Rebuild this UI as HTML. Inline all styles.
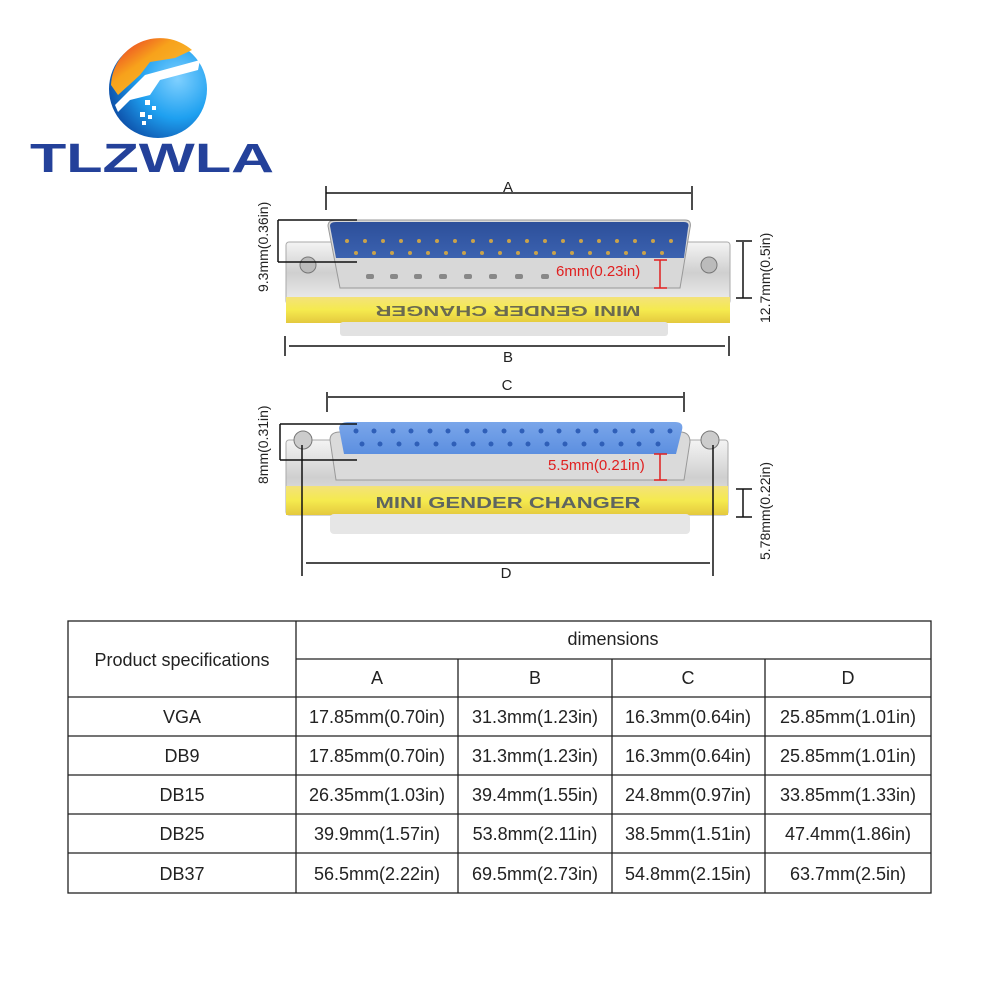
<!DOCTYPE html>
<html><head><meta charset="utf-8"><style>
html,body{margin:0;padding:0;background:#fff;}
svg{display:block;font-family:"Liberation Sans",sans-serif;}
</style></head><body>
<svg width="1000" height="1000" viewBox="0 0 1000 1000" xmlns="http://www.w3.org/2000/svg">
<defs>
<linearGradient id="orb" x1="0" y1="0" x2="1" y2="1">
<stop offset="0" stop-color="#e8262a"/><stop offset="0.4" stop-color="#f7a21b"/><stop offset="1" stop-color="#f9c43a"/></linearGradient>
<radialGradient id="blue" cx="0.7" cy="0.4" r="0.8"><stop offset="0" stop-color="#7fd0ff"/><stop offset="0.5" stop-color="#1ea0f0"/><stop offset="1" stop-color="#0a3f9a"/></radialGradient>
<linearGradient id="silver" x1="0" y1="0" x2="0" y2="1"><stop offset="0" stop-color="#f4f4f4"/><stop offset="0.5" stop-color="#cfcfcf"/><stop offset="1" stop-color="#eee"/></linearGradient>
<linearGradient id="yellow" x1="0" y1="0" x2="0" y2="1"><stop offset="0" stop-color="#f3e27a"/><stop offset="0.5" stop-color="#f5ea4e"/><stop offset="1" stop-color="#e4c93e"/></linearGradient>
<linearGradient id="dblue" x1="0" y1="0" x2="0" y2="1"><stop offset="0" stop-color="#2d4f9a"/><stop offset="1" stop-color="#3b62b0"/></linearGradient>
<linearGradient id="lblue" x1="0" y1="0" x2="0" y2="1"><stop offset="0" stop-color="#7aa6ea"/><stop offset="1" stop-color="#5c8fe0"/></linearGradient>
</defs>
<!-- logo -->
<circle cx="158" cy="89" r="49" fill="url(#blue)"/>
<path d="M111 85 A49 49 0 0 1 192 50 L175 58 L150 62 L140 75 L118 95 Z" fill="url(#orb)"/>
<path d="M115 105 L145 75 L200 60 L198 70 L160 80 L150 95 L130 100 L118 112 Z" fill="#fff"/>
<g fill="#fff"><rect x="145" y="100" width="5" height="5"/><rect x="152" y="106" width="4" height="4"/><rect x="140" y="112" width="5" height="5"/><rect x="148" y="115" width="4" height="4"/><rect x="142" y="121" width="4" height="4"/></g>
<text x="30" y="172" font-size="41" font-weight="bold" fill="#24419a" textLength="244" lengthAdjust="spacingAndGlyphs">TLZWLA</text>

<!-- top connector -->
<rect x="286" y="242" width="444" height="62" rx="3" fill="url(#silver)" stroke="#aaa"/>
<rect x="286" y="297" width="444" height="26" fill="url(#yellow)"/>
<rect x="340" y="322" width="328" height="14" rx="3" fill="#e2e2e2"/>
<path d="M328 226 Q328 220 336 220 L685 220 Q692 220 690 228 L680 288 L340 288 Z" fill="#d8d8d8" stroke="#999"/>
<path d="M330 226 Q330 222 336 222 L684 222 Q690 222 688 228 L684 258 L336 258 Z" fill="url(#dblue)"/>
<g fill="#c9a24a">
<circle cx="347" cy="241" r="2"/><circle cx="365" cy="241" r="2"/><circle cx="383" cy="241" r="2"/><circle cx="401" cy="241" r="2"/><circle cx="419" cy="241" r="2"/><circle cx="437" cy="241" r="2"/><circle cx="455" cy="241" r="2"/><circle cx="473" cy="241" r="2"/><circle cx="491" cy="241" r="2"/><circle cx="509" cy="241" r="2"/><circle cx="527" cy="241" r="2"/><circle cx="545" cy="241" r="2"/><circle cx="563" cy="241" r="2"/><circle cx="581" cy="241" r="2"/><circle cx="599" cy="241" r="2"/><circle cx="617" cy="241" r="2"/><circle cx="635" cy="241" r="2"/><circle cx="653" cy="241" r="2"/><circle cx="671" cy="241" r="2"/>
<circle cx="356" cy="253" r="2"/><circle cx="374" cy="253" r="2"/><circle cx="392" cy="253" r="2"/><circle cx="410" cy="253" r="2"/><circle cx="428" cy="253" r="2"/><circle cx="446" cy="253" r="2"/><circle cx="464" cy="253" r="2"/><circle cx="482" cy="253" r="2"/><circle cx="500" cy="253" r="2"/><circle cx="518" cy="253" r="2"/><circle cx="536" cy="253" r="2"/><circle cx="554" cy="253" r="2"/><circle cx="572" cy="253" r="2"/><circle cx="590" cy="253" r="2"/><circle cx="608" cy="253" r="2"/><circle cx="626" cy="253" r="2"/><circle cx="644" cy="253" r="2"/><circle cx="662" cy="253" r="2"/>
</g>
<g fill="#888"><rect x="366" y="274" width="8" height="5" rx="2"/><rect x="390" y="274" width="8" height="5" rx="2"/><rect x="414" y="274" width="8" height="5" rx="2"/><rect x="439" y="274" width="8" height="5" rx="2"/><rect x="464" y="274" width="8" height="5" rx="2"/><rect x="489" y="274" width="8" height="5" rx="2"/><rect x="515" y="274" width="8" height="5" rx="2"/><rect x="541" y="274" width="8" height="5" rx="2"/></g>
<circle cx="308" cy="265" r="8" fill="#bbb" stroke="#777"/><circle cx="709" cy="265" r="8" fill="#bbb" stroke="#777"/>
<text x="508" y="316" font-size="15" font-weight="bold" fill="#6b6a50" text-anchor="middle" transform="rotate(180 508 311)" textLength="265" lengthAdjust="spacingAndGlyphs">MINI GENDER CHANGER</text>
<!-- top dims -->
<g stroke="#111" stroke-width="1.5" fill="none">
<line x1="326" y1="193" x2="691" y2="193"/><line x1="326" y1="186" x2="326" y2="210"/><line x1="692" y1="186" x2="692" y2="210"/>
<line x1="289" y1="346" x2="725" y2="346"/><line x1="285" y1="336" x2="285" y2="356"/><line x1="729" y1="336" x2="729" y2="356"/>
<line x1="278" y1="220" x2="357" y2="220"/><line x1="278" y1="262" x2="357" y2="262"/><line x1="278" y1="220" x2="278" y2="262"/>
<line x1="743" y1="242" x2="743" y2="298"/><line x1="736" y1="241" x2="752" y2="241"/><line x1="736" y1="298" x2="752" y2="298"/>
</g>
<g stroke="#e02020" stroke-width="1.5"><line x1="660" y1="260" x2="660" y2="288"/><line x1="654" y1="260" x2="667" y2="260"/><line x1="654" y1="288" x2="667" y2="288"/></g>
<text x="556" y="276" font-size="15" fill="#e02020">6mm(0.23in)</text>
<text x="508" y="192" font-size="15" fill="#222" text-anchor="middle">A</text>
<text x="508" y="362" font-size="15" fill="#222" text-anchor="middle">B</text>
<text transform="translate(268 292) rotate(-90)" font-size="14" fill="#222">9.3mm(0.36in)</text>
<text transform="translate(770 323) rotate(-90)" font-size="14" fill="#222">12.7mm(0.5in)</text>

<!-- bottom connector -->
<rect x="286" y="440" width="442" height="75" rx="3" fill="url(#silver)" stroke="#aaa"/>
<rect x="286" y="486" width="442" height="29" fill="url(#yellow)"/>
<rect x="330" y="514" width="360" height="20" rx="4" fill="#e6e6e6"/>
<path d="M330 440 Q330 432 340 432 L680 432 Q690 432 690 442 L684 480 L336 480 Z" fill="#dadada" stroke="#999"/>
<path d="M339 428 Q340 422 348 422 L675 422 Q684 422 682 430 L676 454 L344 454 Z" fill="url(#lblue)"/>
<g fill="#2f5fb8">
<circle cx="356" cy="431" r="2.5"/><circle cx="374" cy="431" r="2.5"/><circle cx="393" cy="431" r="2.5"/><circle cx="411" cy="431" r="2.5"/><circle cx="430" cy="431" r="2.5"/><circle cx="448" cy="431" r="2.5"/><circle cx="467" cy="431" r="2.5"/><circle cx="485" cy="431" r="2.5"/><circle cx="504" cy="431" r="2.5"/><circle cx="522" cy="431" r="2.5"/><circle cx="541" cy="431" r="2.5"/><circle cx="559" cy="431" r="2.5"/><circle cx="578" cy="431" r="2.5"/><circle cx="596" cy="431" r="2.5"/><circle cx="615" cy="431" r="2.5"/><circle cx="633" cy="431" r="2.5"/><circle cx="652" cy="431" r="2.5"/><circle cx="670" cy="431" r="2.5"/>
<circle cx="362" cy="444" r="2.5"/><circle cx="380" cy="444" r="2.5"/><circle cx="399" cy="444" r="2.5"/><circle cx="417" cy="444" r="2.5"/><circle cx="436" cy="444" r="2.5"/><circle cx="454" cy="444" r="2.5"/><circle cx="473" cy="444" r="2.5"/><circle cx="491" cy="444" r="2.5"/><circle cx="510" cy="444" r="2.5"/><circle cx="528" cy="444" r="2.5"/><circle cx="547" cy="444" r="2.5"/><circle cx="565" cy="444" r="2.5"/><circle cx="584" cy="444" r="2.5"/><circle cx="602" cy="444" r="2.5"/><circle cx="621" cy="444" r="2.5"/><circle cx="639" cy="444" r="2.5"/><circle cx="658" cy="444" r="2.5"/>
</g>
<circle cx="303" cy="440" r="9" fill="#ccc" stroke="#777"/><circle cx="710" cy="440" r="9" fill="#ccc" stroke="#777"/>
<text x="508" y="508" font-size="16" font-weight="bold" fill="#5e6560" text-anchor="middle" textLength="265" lengthAdjust="spacingAndGlyphs">MINI GENDER CHANGER</text>
<g stroke="#111" stroke-width="1.5" fill="none">
<line x1="328" y1="397" x2="683" y2="397"/><line x1="327" y1="392" x2="327" y2="412"/><line x1="684" y1="392" x2="684" y2="412"/>
<line x1="280" y1="424" x2="357" y2="424"/><line x1="280" y1="460" x2="357" y2="460"/><line x1="280" y1="424" x2="280" y2="460"/>
<line x1="302" y1="445" x2="302" y2="576"/><line x1="713" y1="445" x2="713" y2="576"/><line x1="306" y1="563" x2="710" y2="563"/>
<line x1="743" y1="489" x2="743" y2="517"/><line x1="736" y1="489" x2="752" y2="489"/><line x1="736" y1="517" x2="752" y2="517"/>
</g>
<g stroke="#e02020" stroke-width="1.5"><line x1="660" y1="454" x2="660" y2="480"/><line x1="654" y1="454" x2="667" y2="454"/><line x1="654" y1="480" x2="667" y2="480"/></g>
<text x="548" y="470" font-size="15" fill="#e02020">5.5mm(0.21in)</text>
<text x="507" y="390" font-size="15" fill="#222" text-anchor="middle">C</text>
<text x="506" y="578" font-size="15" fill="#222" text-anchor="middle">D</text>
<text transform="translate(268 484) rotate(-90)" font-size="14" fill="#222">8mm(0.31in)</text>
<text transform="translate(770 560) rotate(-90)" font-size="14" fill="#222">5.78mm(0.22in)</text>

<!-- table -->
<g stroke="#222" stroke-width="1.3" fill="none">
<rect x="68" y="621" width="863" height="272"/>
<line x1="296" y1="621" x2="296" y2="893"/>
<line x1="296" y1="659" x2="931" y2="659"/>
<line x1="458" y1="659" x2="458" y2="893"/><line x1="612" y1="659" x2="612" y2="893"/><line x1="765" y1="659" x2="765" y2="893"/>
<line x1="68" y1="697" x2="931" y2="697"/><line x1="68" y1="736" x2="931" y2="736"/><line x1="68" y1="775" x2="931" y2="775"/><line x1="68" y1="814" x2="931" y2="814"/><line x1="68" y1="853" x2="931" y2="853"/>
</g>
<g font-size="18" fill="#222" text-anchor="middle">
<text x="613" y="645">dimensions</text>
<text x="182" y="666">Product specifications</text>
<text x="377" y="684">A</text><text x="535" y="684">B</text><text x="688" y="684">C</text><text x="848" y="684">D</text>
<text x="182" y="723">VGA</text><text x="377" y="723">17.85mm(0.70in)</text><text x="535" y="723">31.3mm(1.23in)</text><text x="688" y="723">16.3mm(0.64in)</text><text x="848" y="723">25.85mm(1.01in)</text>
<text x="182" y="762">DB9</text><text x="377" y="762">17.85mm(0.70in)</text><text x="535" y="762">31.3mm(1.23in)</text><text x="688" y="762">16.3mm(0.64in)</text><text x="848" y="762">25.85mm(1.01in)</text>
<text x="182" y="801">DB15</text><text x="377" y="801">26.35mm(1.03in)</text><text x="535" y="801">39.4mm(1.55in)</text><text x="688" y="801">24.8mm(0.97in)</text><text x="848" y="801">33.85mm(1.33in)</text>
<text x="182" y="840">DB25</text><text x="377" y="840">39.9mm(1.57in)</text><text x="535" y="840">53.8mm(2.11in)</text><text x="688" y="840">38.5mm(1.51in)</text><text x="848" y="840">47.4mm(1.86in)</text>
<text x="182" y="880">DB37</text><text x="377" y="880">56.5mm(2.22in)</text><text x="535" y="880">69.5mm(2.73in)</text><text x="688" y="880">54.8mm(2.15in)</text><text x="848" y="880">63.7mm(2.5in)</text>
</g>
</svg>
</body></html>
